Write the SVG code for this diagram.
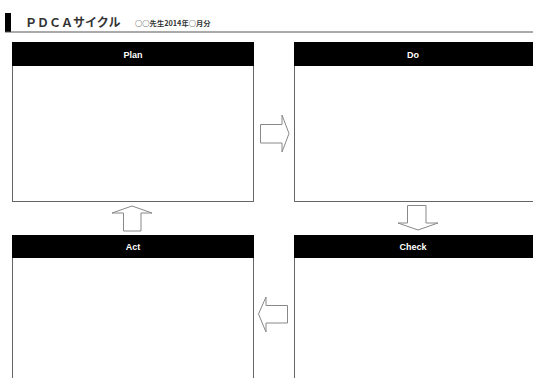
<svg xmlns="http://www.w3.org/2000/svg" width="533" height="378" viewBox="0 0 533 378">
<style>
.box{fill:#fff;stroke:#666;stroke-width:1}
.hdr{fill:#000}
.ht{font-family:"Liberation Sans",Arial,sans-serif;font-weight:bold;font-size:9px;fill:#fff;text-anchor:middle}
.arr{fill:#fff;stroke:#888;stroke-width:1;stroke-linejoin:miter}
</style>
<rect width="533" height="378" fill="#fff"/>
<g id="title">
<rect x="5" y="13" width="6" height="19" fill="#000"/>
<line x1="5" y1="32" x2="533" y2="32" stroke="#555" stroke-width="1"/>
<text x="25" y="26.5" font-family="'Noto Sans CJK JP',sans-serif" font-weight="bold" font-size="12px" fill="#333">ＰＤＣＡサイクル</text>
<text x="135" y="26" font-family="'Noto Sans CJK JP',sans-serif" font-weight="bold" font-size="7.3px" fill="#333">○○先生2014年○月分</text>
</g>
<g id="plan">
<rect class="box" x="12.5" y="42.5" width="241" height="159"/>
<rect class="hdr" x="12" y="42" width="242" height="24"/>
<text class="ht" x="133" y="58">Plan</text>
</g>
<g id="do">
<rect class="box" x="294.5" y="42.5" width="250" height="159"/>
<rect class="hdr" x="294" y="42" width="245" height="24"/>
<text class="ht" x="413" y="58">Do</text>
</g>
<g id="act">
<rect class="box" x="12.5" y="235.5" width="241" height="160"/>
<rect class="hdr" x="12" y="235" width="242" height="23"/>
<text class="ht" x="133" y="250">Act</text>
</g>
<g id="check">
<rect class="box" x="294.5" y="235.5" width="250" height="160"/>
<rect class="hdr" x="294" y="235" width="245" height="23"/>
<text class="ht" x="413" y="250">Check</text>
</g>
<g id="connectors">
<path class="arr" d="M260.5,124.5 H282 V115 L289,133.5 L282,152 V143 H260.5 Z"/>
<path class="arr" d="M407.5,205.5 H426 V223 H438 L418,230 L398,223 H407.5 Z"/>
<path class="arr" d="M287.5,305.5 H266 V297 L258.5,314 L266,332 V323 H287.5 Z"/>
<path class="arr" d="M123.5,231 V213 H112 L132,206 L152,213 H141 V231 Z"/>
</g>
</svg>
